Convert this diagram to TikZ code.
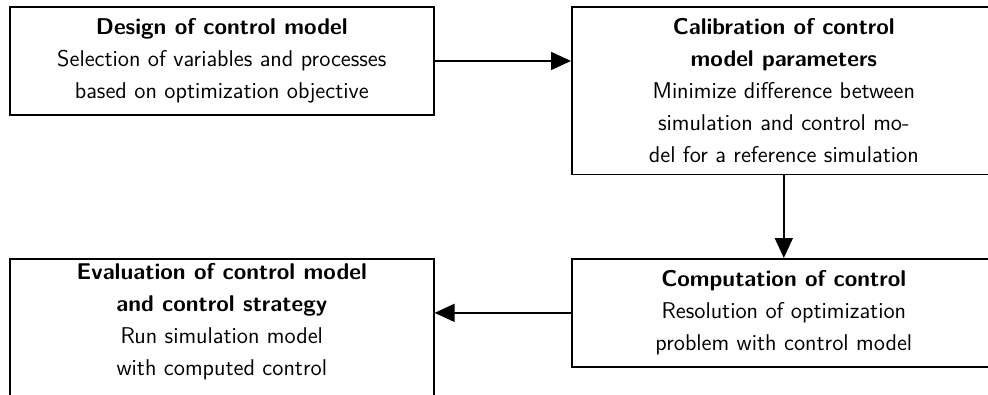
\documentclass[tikz,border=0pt]{standalone}
\usepackage{tikz}
\usetikzlibrary{arrows.meta}
\tikzset{
  block/.style={draw, thick, minimum width=212pt, align=center, inner sep=6pt,
    font=\sffamily\fontsize{11.4}{15.9}\selectfont},
  flow/.style={thick, -{Triangle[length=10pt, width=9pt]}}
}
\begin{document}
\begin{tikzpicture}
\clip (0, 0) rectangle (494pt, -197.5pt);
\node [block, anchor=north west] (design) at (4.5pt, -3pt)
  {\textbf{Design of control model}\\ Selection of variables and processes\\ based on optimization objective};
\node [block, anchor=north west] (calib) at (285.5pt, -3pt)
  {\textbf{Calibration of control}\\ \textbf{model parameters}\\ Minimize difference between\\ simulation and control mo-\\ del for a reference simulation};
\node [block, anchor=north west] (comp) at (285.5pt, -129pt)
  {\textbf{Computation of control}\\ Resolution of optimization\\ problem with control model};
\node [block, anchor=north west, inner ysep=2.5pt, text depth=20pt] (eval) at (4.5pt, -129pt)
  {\textbf{Evaluation of control model}\\ \textbf{and control strategy}\\ Run simulation model\\ with computed control};
\draw [flow] (design.east) -- (design.east -| calib.west);
\draw [flow] (calib.south) -- (comp.north);
\draw [flow] (comp.west) -- (comp.west -| eval.east);
\end{tikzpicture}
\end{document}
